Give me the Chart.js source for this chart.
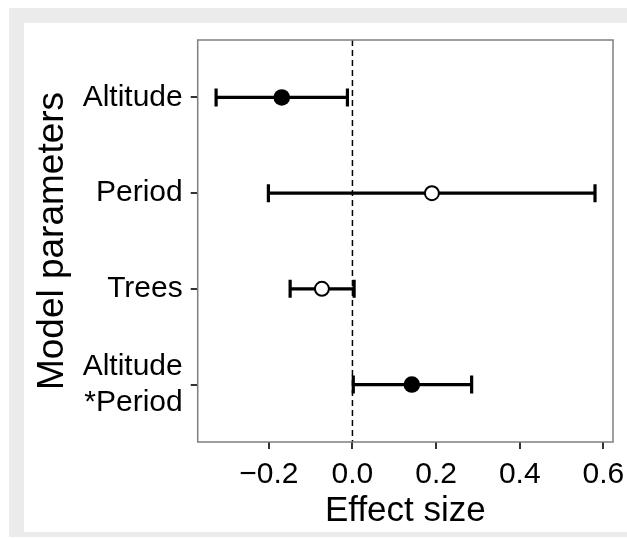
<!DOCTYPE html>
<html>
<head>
<meta charset="utf-8">
<script src="https://cdn.jsdelivr.net/npm/chart.js@4.4.1/dist/chart.umd.min.js"></script>
<style>
  html, body { margin: 0; padding: 0; background: #ffffff; }
  body { width: 627px; height: 538px; position: relative; overflow: hidden; }
  #frame { position: absolute; left: 9px; top: 8px; right: 0; bottom: 1px; background: #ebebeb; }
  #panel { position: absolute; left: 24px; top: 23px; width: 603px; height: 509px; background: #ffffff; }
  #chart { position: absolute; left: 0; top: 0; }
</style>
</head>
<body>
<div id="frame"></div>
<div id="panel"><canvas id="chart" width="603" height="509"></canvas></div>
<script>
// Model parameter estimates with 95% intervals
const categories = ['Altitude', 'Period', 'Trees', ['Altitude', '*Period']];
const estimates  = [-0.169, 0.190, -0.073, 0.142];
const lowerCI    = [-0.326, -0.201, -0.149, 0.002];
const upperCI    = [-0.012, 0.580, 0.004, 0.285];
const significant = [true, false, false, true];
const xTicks = [-0.2, 0.0, 0.2, 0.4, 0.6];

const rows = categories.map((c, i) => i + 1);

// Error bars, zero line and panel border drawn through the chart scales
const errorBarPlugin = {
    id: 'errorBars',
    beforeDatasetsDraw(chart) {
        const ctx = chart.ctx;
        const xs = chart.scales.x;
        const ys = chart.scales.y;
        const area = chart.chartArea;

        // dashed reference line at zero
        ctx.save();
        ctx.strokeStyle = '#000000';
        ctx.lineWidth = 1.5;
        ctx.setLineDash([6, 4]);
        const x0 = xs.getPixelForValue(0);
        ctx.beginPath();
        ctx.moveTo(x0, area.top);
        ctx.lineTo(x0, area.bottom);
        ctx.stroke();
        ctx.restore();

        ctx.save();
        ctx.strokeStyle = '#000000';
        ctx.lineWidth = 3.2;
        rows.forEach((r, i) => {
            const y = ys.getPixelForValue(r);
            const xl = xs.getPixelForValue(lowerCI[i]);
            const xh = xs.getPixelForValue(upperCI[i]);
            ctx.beginPath();
            ctx.moveTo(xl, y);
            ctx.lineTo(xh, y);
            ctx.moveTo(xl, y - 9);
            ctx.lineTo(xl, y + 9);
            ctx.moveTo(xh, y - 9);
            ctx.lineTo(xh, y + 9);
            ctx.stroke();
        });
        ctx.restore();
    },
    afterDraw(chart) {
        const ctx = chart.ctx;
        const area = chart.chartArea;
        ctx.save();
        ctx.strokeStyle = '#7f7f7f';
        ctx.lineWidth = 1.5;
        ctx.strokeRect(area.left, area.top, area.right - area.left, area.bottom - area.top);
        ctx.restore();
    }
};

new Chart(document.getElementById('chart'), {
    type: 'scatter',
    data: {
        datasets: [{
            data: rows.map((r, i) => ({ x: estimates[i], y: r })),
            pointStyle: 'circle',
            pointRadius: significant.map(s => s ? 8.3 : 7),
            pointHoverRadius: significant.map(s => s ? 8.3 : 7),
            pointBackgroundColor: significant.map(s => s ? '#000000' : '#ffffff'),
            pointBorderColor: '#000000',
            pointBorderWidth: significant.map(s => s ? 0 : 2)
        }]
    },
    options: {
        responsive: false,
        animation: false,
        devicePixelRatio: 1,
        layout: { padding: { left: 0, top: 17, right: 14, bottom: 0 } },
        plugins: {
            legend: { display: false },
            tooltip: { enabled: false }
        },
        scales: {
            x: {
                type: 'linear',
                min: -0.37,
                max: 0.623,
                afterBuildTicks: (scale) => { scale.ticks = xTicks.map(v => ({ value: v })); },
                afterFit: (scale) => {
                    scale.height = 90;
                    scale.paddingLeft = 0;
                    scale.paddingRight = 0;
                },
                border: { display: false },
                grid: { drawOnChartArea: false, drawTicks: true, tickLength: 7, color: '#333333', lineWidth: 2 },
                ticks: {
                    color: '#000000',
                    padding: 8,
                    font: { family: 'Liberation Sans', size: 30 },
                    callback: (v) => (v < 0 ? '\u2212' : '') + Math.abs(v).toFixed(1)
                },
                title: {
                    display: true,
                    text: 'Effect size',
                    color: '#000000',
                    font: { family: 'Liberation Sans', size: 35, lineHeight: 1 },
                    padding: { top: 0, bottom: 3 }
                }
            },
            y: {
                type: 'linear',
                reverse: true,
                min: 0.4,
                max: 4.6,
                afterBuildTicks: (scale) => { scale.ticks = rows.map(v => ({ value: v })); },
                afterFit: (scale) => {
                    scale.width = 173.7;
                    scale.paddingTop = 0;
                    scale.paddingBottom = 0;
                },
                border: { display: false },
                grid: { drawOnChartArea: false, drawTicks: true, tickLength: 7, color: '#333333', lineWidth: 2 },
                ticks: {
                    color: '#000000',
                    padding: 8,
                    font: { family: 'Liberation Sans', size: 30, lineHeight: 1.2 },
                    callback: (v) => categories[v - 1]
                },
                title: {
                    display: true,
                    text: 'Model parameters',
                    color: '#000000',
                    font: { family: 'Liberation Sans', size: 37, lineHeight: 1 },
                    padding: { top: 10, bottom: 0 }
                }
            }
        }
    },
    plugins: [errorBarPlugin]
});
</script>
</body>
</html>
